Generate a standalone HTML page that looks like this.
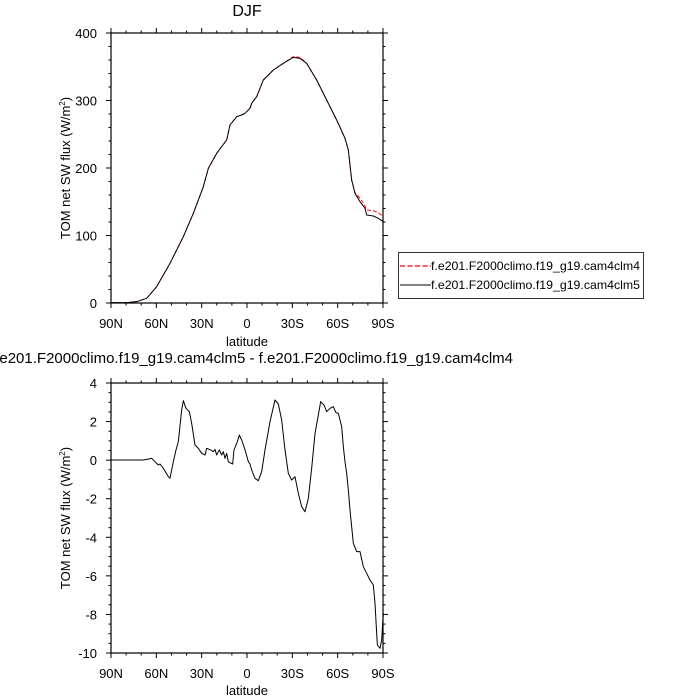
<!DOCTYPE html>
<html><head><meta charset="utf-8"><style>html,body{margin:0;padding:0;background:#fff}svg{display:block;font-family:"Liberation Sans",sans-serif}</style></head>
<body>
<svg id="s" width="700" height="700" viewBox="0 0 700 700" xmlns="http://www.w3.org/2000/svg">
<rect width="700" height="700" fill="#fff"/>
<text x="247" y="16" font-size="16" text-anchor="middle">DJF</text>
<g transform="translate(60,0) scale(0.3333333)" fill="none" stroke-width="3" stroke-linejoin="round">
<polyline stroke="#f00" stroke-dasharray="12,6" points="152,908 200,908 230,905 260,895 290,860 330,790 370,710 400,640 430,560 445,505 470,460 500,420 510,375 530,350 545,345 555,340 570,325 575,310 590,290 610,240 640,210 670,190 700,170 720,172 740,190 770,240 800,300 830,360 855,415 865,450 875,540 885,578 900,595 912,612 920,630 940,632 955,638 970,650"/>
<polyline stroke="#000" points="152,908 200,908 230,905 260,895 290,860 330,790 370,710 400,640 430,560 445,505 470,460 500,420 510,375 530,350 545,345 555,340 570,325 575,310 590,290 610,240 640,210 670,190 700,172 720,175 740,190 770,240 800,300 830,360 855,415 865,450 875,540 885,580 900,605 915,625 920,645 940,648 955,655 970,665"/>
</g>
<g transform="translate(60,340) scale(0.3333333)" fill="none" stroke-width="3" stroke-linejoin="round">
<polyline stroke="#000" points="152,360 250,360 275,355 285,365 295,375 300,372 310,385 325,410 330,415 340,365 348,330 355,305 365,210 370,182 378,205 388,215 395,250 405,315 415,325 425,340 435,345 440,325 452,330 460,335 465,328 470,345 475,335 478,330 485,345 490,335 495,355 500,340 505,365 510,368 518,372 522,330 532,305 538,285 545,300 552,320 558,340 565,365 570,372 575,390 585,415 595,422 605,395 615,330 630,245 645,180 655,192 665,240 675,330 685,400 695,420 705,410 715,460 725,500 735,515 745,475 755,385 765,280 775,225 782,185 792,195 800,215 810,205 820,200 828,218 835,220 845,260 850,320 855,365 860,400 865,450 870,510 880,610 890,635 900,635 910,680 920,700 930,720 940,735 945,790 952,915 960,925 965,900 970,820"/>
</g>
<g id="ax"></g>
<text transform="translate(70,168) rotate(-90)" font-size="13" text-anchor="middle">TOM net SW flux (W/m<tspan font-size="8" dy="-5">2</tspan><tspan dy="5">)</tspan></text>
<text transform="translate(70,518) rotate(-90)" font-size="13" text-anchor="middle">TOM net SW flux (W/m<tspan font-size="8" dy="-5">2</tspan><tspan dy="5">)</tspan></text>
<text x="247" y="346" font-size="13" text-anchor="middle">latitude</text>
<text x="247" y="695" font-size="13" text-anchor="middle">latitude</text>
<text x="252" y="363" font-size="15" text-anchor="middle">f.e201.F2000climo.f19_g19.cam4clm5 - f.e201.F2000climo.f19_g19.cam4clm4</text>
<rect x="398.5" y="252.5" width="245" height="46" fill="none" stroke="#000" stroke-width="0.8"/>
<line x1="400" y1="266" x2="431" y2="266" stroke="#f00" stroke-width="1.2" stroke-dasharray="5,2.5"/>
<line x1="400" y1="285" x2="431" y2="285" stroke="#000" stroke-width="1"/>
<text x="431" y="270" font-size="12" textLength="209" lengthAdjust="spacingAndGlyphs">f.e201.F2000climo.f19_g19.cam4clm4</text>
<text x="431" y="289" font-size="12" textLength="209" lengthAdjust="spacingAndGlyphs">f.e201.F2000climo.f19_g19.cam4clm5</text>
</svg>
<script>
(function(){
var g=document.getElementById('ax'),h='';
function L(x1,y1,x2,y2){h+='<line x1="'+x1+'" y1="'+y1+'" x2="'+x2+'" y2="'+y2+'" stroke="#000" stroke-width="1"/>';}
function T(x,y,t,a){h+='<text x="'+x+'" y="'+y+'" font-size="13" text-anchor="'+a+'">'+t+'</text>';}
var X0=111,X1=383;
function axes(Y0,Y1,vmin,vmax,maj,mn){
 h+='<rect x="'+X0+'" y="'+Y0+'" width="'+(X1-X0)+'" height="'+(Y1-Y0)+'" fill="none" stroke="#000" stroke-width="1.2"/>';
 var labs=['90N','60N','30N','0','30S','60S','90S'];
 for(var d=0;d<=180;d+=10){var x=X0+d*(X1-X0)/180,M=d%30==0,l=M?5:2.5;L(x,Y1,x,Y1+l);L(x,Y0,x,Y0-l);if(M)T(x,Y1+25,labs[d/30],'middle');}
 var n=Math.round((vmax-vmin)/mn);
 for(var i=0;i<=n;i++){var v=vmin+i*mn,y=Y1-(v-vmin)*(Y1-Y0)/(vmax-vmin),M=Math.abs(v/maj-Math.round(v/maj))<1e-6,l=M?5:2.5;L(X0,y,X0-l,y);L(X1,y,X1+l,y);if(M)T(X0-14,y+5,String(Math.round(v)),'end');}
}
axes(33,303,0,400,100,20);
axes(383,653,-10,4,2,0.5);
g.innerHTML=h;
})();
</script>
</body></html>
